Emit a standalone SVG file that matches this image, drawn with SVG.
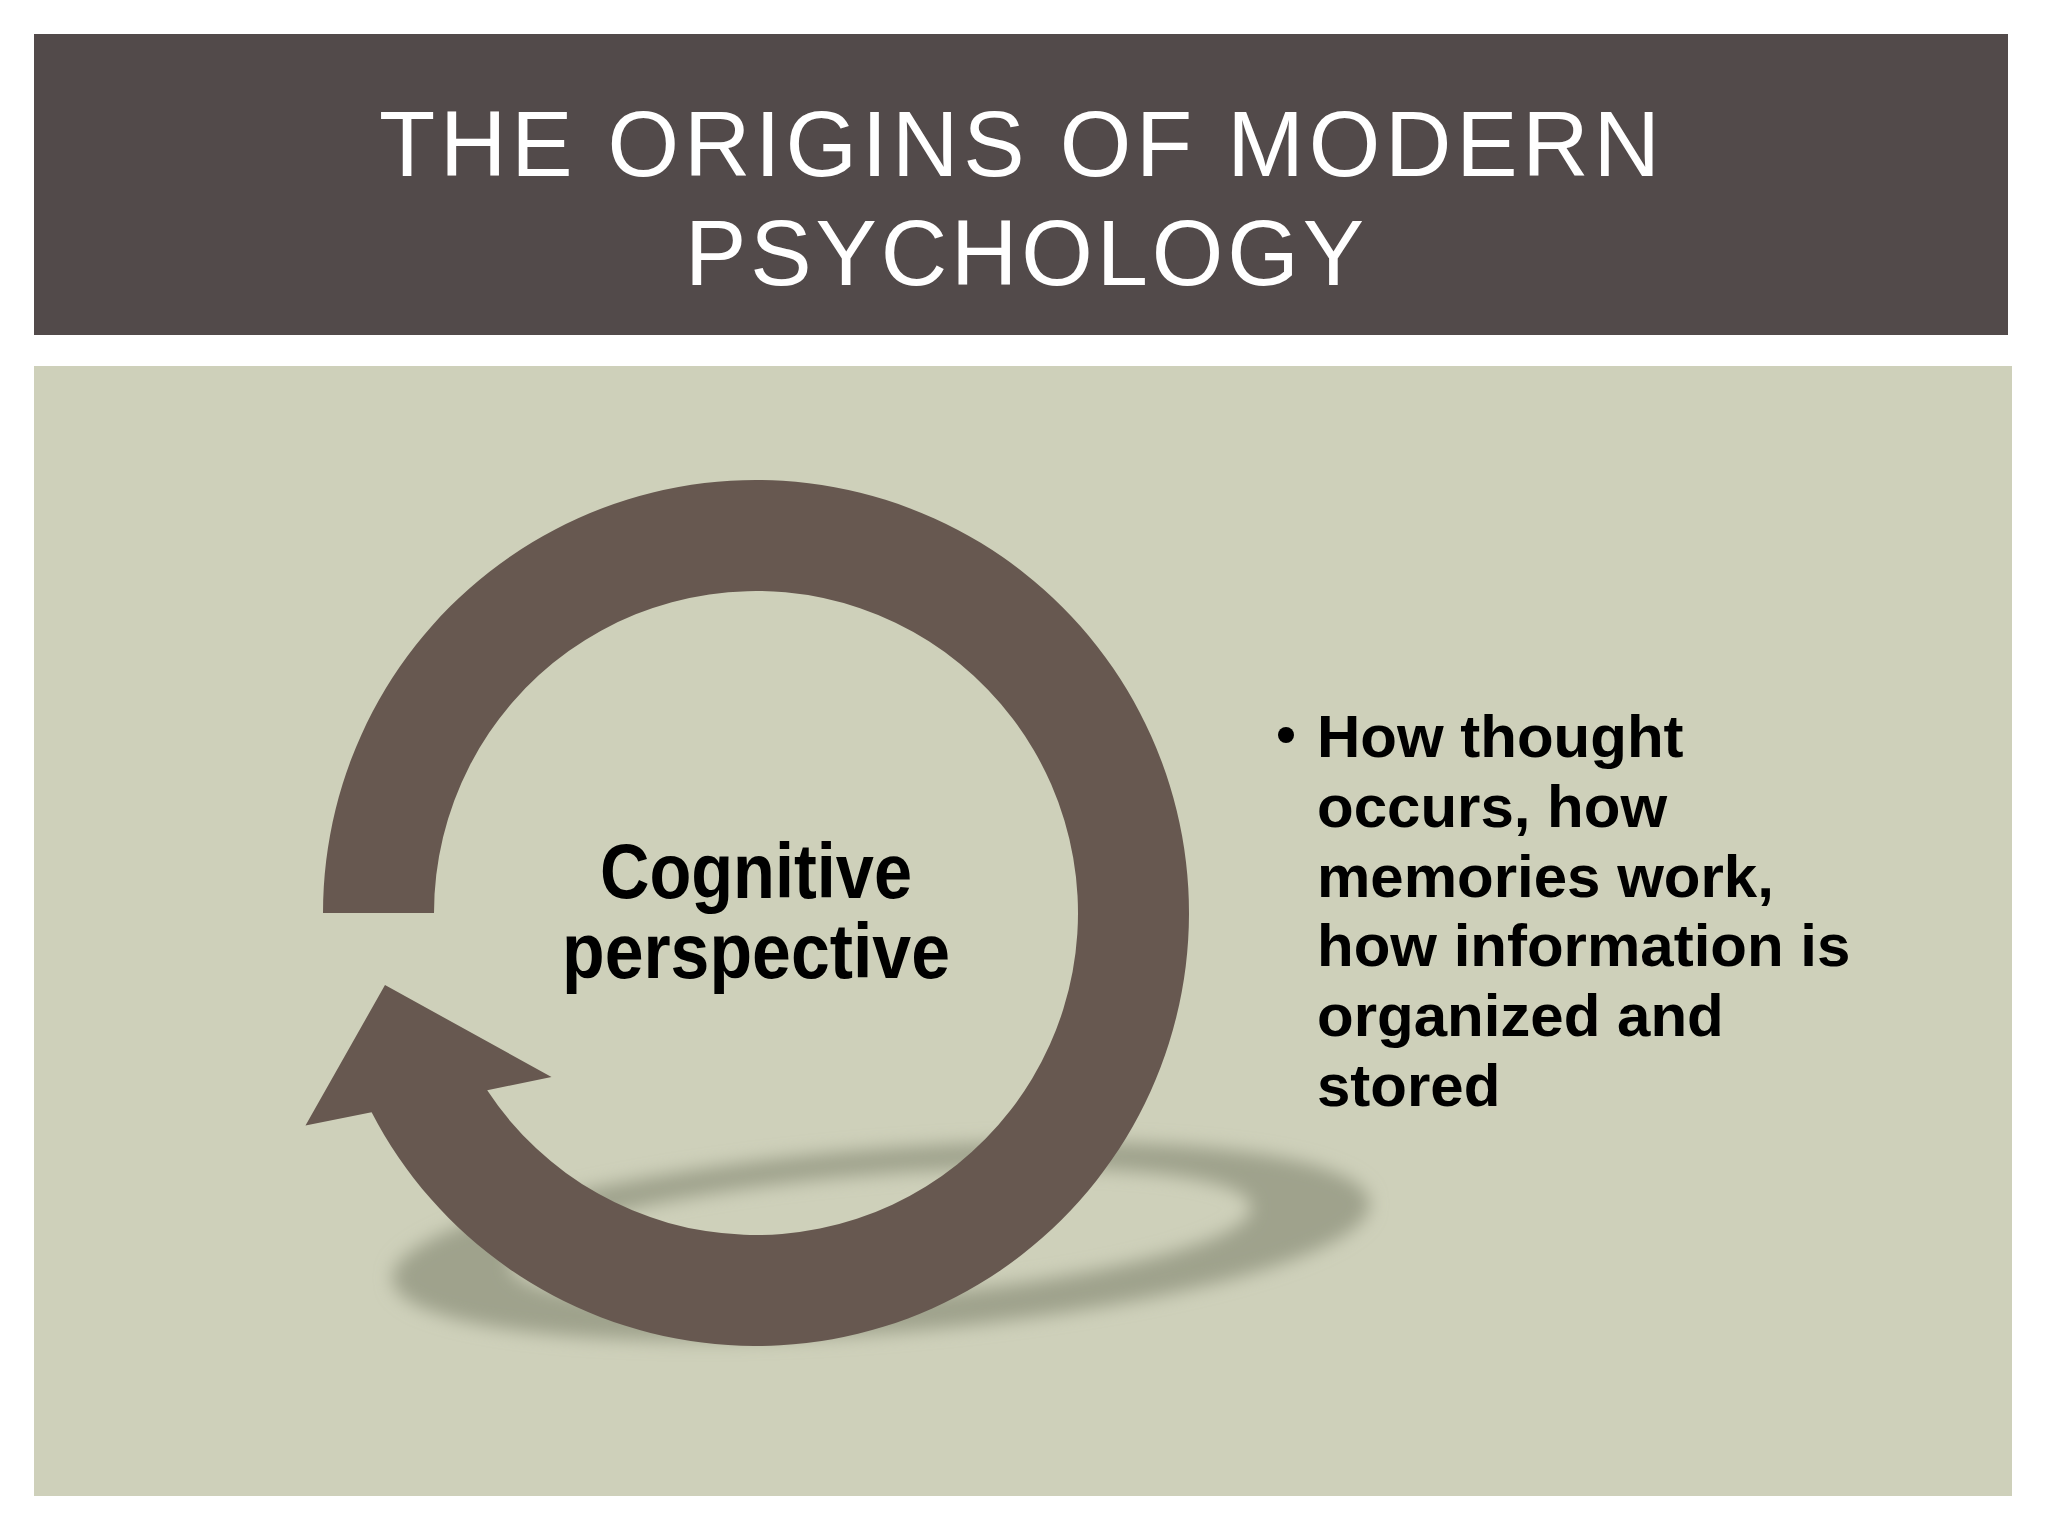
<svg xmlns="http://www.w3.org/2000/svg" width="2048" height="1536" viewBox="0 0 2048 1536">
  <style>
    .title { font-family: "Liberation Sans", Arial, sans-serif; font-size: 92px; fill: #ffffff; }
    .center { font-family: "Liberation Sans", Arial, sans-serif; font-size: 77px; font-weight: bold; fill: #000000; text-anchor: middle; }
    .bullet { font-family: "Liberation Sans", Arial, sans-serif; font-size: 60px; font-weight: bold; fill: #000000; }
  </style>
  <defs>
    <filter id="blur" x="-20%" y="-50%" width="140%" height="200%">
      <feGaussianBlur stdDeviation="9"/>
    </filter>
  </defs>
  <rect x="0" y="0" width="2048" height="1536" fill="#ffffff"/>

  <g id="header">
    <rect x="34" y="34" width="1974" height="301" fill="#524a4a"/>
    <text class="title" x="379" y="176" textLength="1281" lengthAdjust="spacing">THE ORIGINS OF MODERN</text>
    <text class="title" x="685" y="285" textLength="679" lengthAdjust="spacing">PSYCHOLOGY</text>
  </g>

  <g id="panel">
    <rect x="34" y="366" width="1978" height="1130" fill="#ced0ba"/>
  </g>

  <g id="shadow" filter="url(#blur)">
    <path fill="#9fa28c" fill-rule="evenodd" transform="rotate(-4.5 881 1241)"
      d="M391 1241 a490 92 0 1 0 980 0 a490 92 0 1 0 -980 0 Z M509 1236 a372 62 0 1 0 744 0 a372 62 0 1 0 -744 0 Z"/>
  </g>

  <g id="cycle-arrow">
    <path fill="#675850"
      d="M323 913 A433 433 0 1 1 371.6 1112.3 L305.5 1125.5 L385 985 L551.5 1077 L487.2 1090.3 A322 322 0 1 0 434 913 Z"/>
  </g>

  <g id="node-cognitive">
    <text class="center" x="756" y="898" textLength="312" lengthAdjust="spacingAndGlyphs">Cognitive</text>
    <text class="center" x="756" y="978" textLength="388" lengthAdjust="spacingAndGlyphs">perspective</text>
  </g>

  <g id="bullet-text">
    <circle cx="1286" cy="735" r="8" fill="#000000"/>
    <text class="bullet" x="1317" y="757">How thought</text>
    <text class="bullet" x="1317" y="827">occurs, how</text>
    <text class="bullet" x="1317" y="897">memories work,</text>
    <text class="bullet" x="1317" y="966">how information is</text>
    <text class="bullet" x="1317" y="1036">organized and</text>
    <text class="bullet" x="1317" y="1106">stored</text>
  </g>

  <g id="connectors"></g>
</svg>
